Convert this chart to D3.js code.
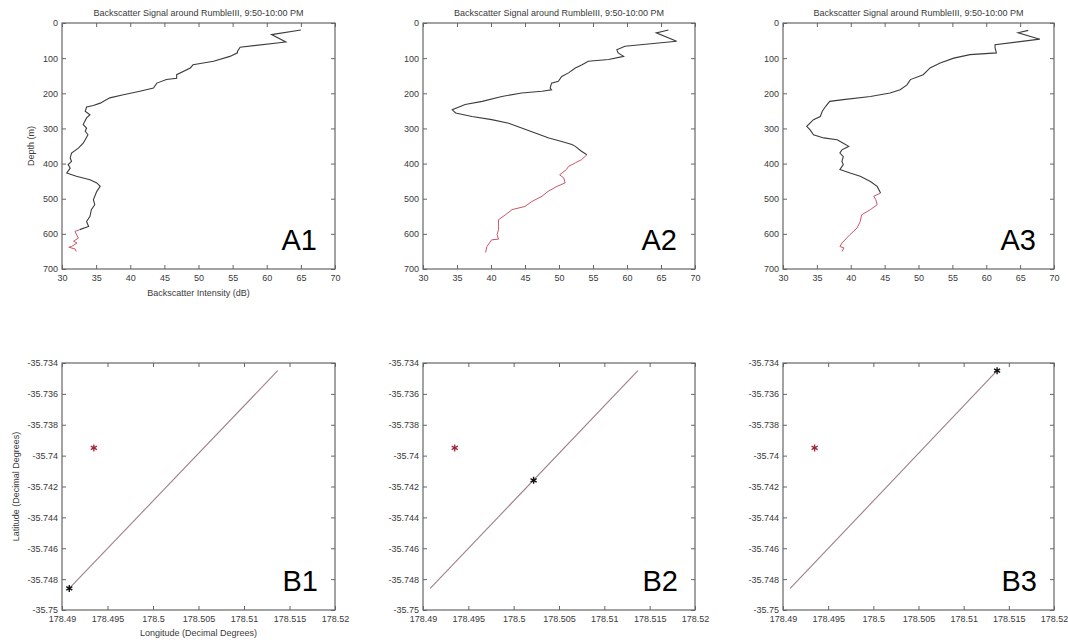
<!DOCTYPE html>
<html>
<head>
<meta charset="utf-8">
<script src="https://cdn.jsdelivr.net/npm/d3@7"></script>
<style>
  body { margin: 0; background: #fff; }
  text { font-family: "Liberation Sans", Arial, sans-serif; }
</style>
</head>
<body>
<div id="chart"></div>
<script>
var width = 1068;
var height = 640;

// ---- data ----
var titleText = "Backscatter Signal around RumbleIII, 9:50-10:00 PM";
var intensityTicks = [30, 35, 40, 45, 50, 55, 60, 65, 70];
var depthTicks = [0, 100, 200, 300, 400, 500, 600, 700];
var lonTicks = [178.49, 178.495, 178.5, 178.505, 178.51, 178.515, 178.52];
var latTicks = [-35.734, -35.736, -35.738, -35.74, -35.742, -35.744, -35.746, -35.748, -35.75];

var a1Intensity = [65.0, 60.7, 62.8, 56.1, 55.7, 55.7, 54.6, 52.2, 49.2, 48.8, 46.8, 46.8, 45.3, 43.9, 43.4, 41.4, 39.0, 37.0, 35.6, 34.6, 33.6, 33.4, 34.1, 33.6, 33.1, 33.6, 33.4, 33.8, 33.4, 33.1, 32.4, 31.4, 31.2, 31.4, 30.9, 31.2, 30.7, 32.1, 34.1, 35.1, 35.6, 35.1, 34.8, 34.6, 34.8, 34.3, 34.1, 33.6, 33.9, 32.6, 31.9, 32.4, 31.7, 32.2, 31.4, 31.0, 31.9, 32.1];
var a1Depth = [20, 33, 54, 69, 81, 85, 95, 109, 119, 128, 147, 157, 161, 171, 185, 194, 204, 213, 228, 235, 239, 251, 261, 270, 289, 299, 308, 318, 332, 342, 356, 370, 384, 394, 403, 413, 427, 436, 446, 455, 465, 479, 493, 503, 517, 531, 550, 565, 579, 588, 593, 612, 621, 626, 636, 638, 643, 650];
var a1RedFrom = 588;

var a2Intensity = [66.1, 64.3, 67.3, 59.7, 58.5, 58.7, 59.5, 57.3, 54.3, 53.4, 52.4, 51.4, 50.4, 49.9, 48.9, 48.7, 48.9, 47.5, 44.5, 41.6, 38.7, 36.2, 34.3, 34.8, 37.2, 40.1, 42.6, 44.5, 46.5, 48.5, 50.4, 51.9, 52.4, 53.3, 54.1, 53.3, 52.4, 51.4, 51.1, 50.1, 50.7, 50.9, 49.7, 48.4, 47.5, 46.0, 45.0, 43.1, 42.1, 41.1, 41.1, 41.1, 40.9, 41.1, 40.1, 39.4, 39.2];
var a2Depth = [20, 28, 52, 66, 76, 85, 95, 104, 109, 119, 128, 142, 152, 166, 171, 185, 190, 194, 199, 209, 223, 232, 247, 256, 266, 275, 285, 299, 313, 327, 337, 346, 351, 365, 375, 389, 398, 408, 417, 432, 441, 455, 465, 479, 493, 508, 522, 531, 546, 560, 579, 588, 602, 615, 617, 636, 653];
var a2RedFrom = 375;

var a3Intensity = [66.2, 64.7, 67.9, 61.3, 61.3, 61.5, 57.6, 55.2, 53.2, 51.7, 50.7, 48.8, 48.3, 47.3, 45.8, 42.9, 38.9, 36.9, 36.3, 35.8, 35.5, 34.5, 33.5, 34.0, 34.5, 36.0, 38.0, 38.9, 39.7, 38.7, 38.4, 38.9, 38.7, 38.9, 38.4, 39.9, 41.4, 42.9, 43.9, 44.4, 43.4, 43.7, 43.9, 42.9, 41.6, 41.4, 40.9, 39.9, 38.7, 38.4, 39.0, 38.7];
var a3Depth = [21, 28, 46, 62, 71, 85, 90, 100, 114, 128, 147, 161, 176, 190, 199, 209, 218, 223, 237, 251, 266, 275, 294, 304, 318, 327, 332, 342, 351, 361, 370, 380, 394, 403, 417, 427, 436, 451, 465, 484, 493, 503, 517, 531, 546, 565, 584, 602, 626, 636, 640, 650];
var a3RedFrom = 484;

var trackLon = [178.4908, 178.5137];
var trackLat = [-35.7486, -35.7345];
var targetLon = 178.4935;
var targetLat = -35.7395;
var shipLon = [178.4908, 178.5022, 178.5137];
var shipLat = [-35.7486, -35.7416, -35.7345];

// ---- layout ----
var boxLefts = [62, 423, 783];
var boxRights = [335, 695, 1054];
var topRow = { top: 23, bottom: 269 };
var bottomRow = { top: 363, bottom: 610 };

var svg = d3.select("#chart").append("svg")
    .attr("width", width)
    .attr("height", height);

function fmtNum(d) {
    return String(+d.toFixed(4));
}

function drawFrame(g, x, y, xTicks, yTicks, w, h) {
    var tickLen = 4;
    g.append("g")
        .attr("transform", "translate(0," + h + ")")
        .call(d3.axisBottom(x).tickValues(xTicks).tickSizeInner(-tickLen).tickSizeOuter(0).tickPadding(6).tickFormat(fmtNum))
        .call(s => s.select(".domain").remove());
    g.append("g")
        .call(d3.axisTop(x).tickValues(xTicks).tickSizeInner(-tickLen).tickSizeOuter(0).tickFormat(""))
        .call(s => s.select(".domain").remove());
    g.append("g")
        .call(d3.axisLeft(y).tickValues(yTicks).tickSizeInner(-tickLen).tickSizeOuter(0).tickPadding(4).tickFormat(fmtNum))
        .call(s => s.select(".domain").remove());
    g.append("g")
        .attr("transform", "translate(" + w + ",0)")
        .call(d3.axisRight(y).tickValues(yTicks).tickSizeInner(-tickLen).tickSizeOuter(0).tickFormat(""))
        .call(s => s.select(".domain").remove());

    g.selectAll(".tick line").attr("stroke", "#666");
    g.selectAll(".tick text").attr("fill", "#3a3a3a").style("font-size", "9px");

    g.append("rect")
        .attr("width", w)
        .attr("height", h)
        .attr("fill", "none")
        .attr("stroke", "#666")
        .attr("stroke-width", 1.2);
}

function drawProfile(i, intensity, depth, redFrom, label, withAxisLabels) {
    var left = boxLefts[i], w = boxRights[i] - boxLefts[i];
    var h = topRow.bottom - topRow.top;
    var g = svg.append("g").attr("transform", "translate(" + left + "," + topRow.top + ")");
    var x = d3.scaleLinear().domain([30, 70]).range([0, w]);
    var y = d3.scaleLinear().domain([0, 700]).range([0, h]);

    var pts = intensity.map((v, k) => [v, depth[k]]);
    var line = d3.line().x(d => x(d[0])).y(d => y(d[1]));

    g.append("path")
        .datum(pts.filter(d => d[1] <= redFrom))
        .attr("d", line)
        .attr("fill", "none")
        .attr("stroke", "#3c3c3c")
        .attr("stroke-width", 1.1);
    g.append("path")
        .datum(pts.filter(d => d[1] >= redFrom))
        .attr("d", line)
        .attr("fill", "none")
        .attr("stroke", "#cc5568")
        .attr("stroke-width", 1);

    drawFrame(g, x, y, intensityTicks, depthTicks, w, h);

    g.append("text")
        .attr("x", w / 2)
        .attr("y", -7)
        .attr("text-anchor", "middle")
        .attr("fill", "#3a3a3a")
        .style("font-size", "9px")
        .text(titleText);

    g.append("text")
        .attr("x", w - 18)
        .attr("y", h - 19)
        .attr("text-anchor", "end")
        .attr("fill", "#000")
        .style("font-size", "29px")
        .text(label);

    if (withAxisLabels) {
        g.append("text")
            .attr("x", w / 2)
            .attr("y", h + 27)
            .attr("text-anchor", "middle")
            .attr("fill", "#3a3a3a")
            .style("font-size", "9px")
            .text("Backscatter Intensity (dB)");
        g.append("text")
            .attr("transform", "translate(-28," + (h / 2) + ") rotate(-90)")
            .attr("text-anchor", "middle")
            .attr("fill", "#3a3a3a")
            .style("font-size", "9px")
            .text("Depth (m)");
    }
}

function drawTrack(i, label, withAxisLabels) {
    var left = boxLefts[i], w = boxRights[i] - boxLefts[i];
    var h = bottomRow.bottom - bottomRow.top;
    var g = svg.append("g").attr("transform", "translate(" + left + "," + bottomRow.top + ")");
    var x = d3.scaleLinear().domain([178.49, 178.52]).range([0, w]);
    var y = d3.scaleLinear().domain([-35.75, -35.734]).range([h, 0]);

    g.append("path")
        .datum(trackLon.map((v, k) => [v, trackLat[k]]))
        .attr("d", d3.line().x(d => x(d[0])).y(d => y(d[1])))
        .attr("fill", "none")
        .attr("stroke", "#a07f88")
        .attr("stroke-width", 1.1);

    var star = d3.symbol().type(d3.symbolAsterisk).size(34);
    g.append("path")
        .attr("d", star())
        .attr("transform", "translate(" + x(targetLon) + "," + y(targetLat) + ")")
        .attr("fill", "none")
        .attr("stroke", "#a02538")
        .attr("stroke-width", 1.3);
    g.append("path")
        .attr("d", star())
        .attr("transform", "translate(" + x(shipLon[i]) + "," + y(shipLat[i]) + ")")
        .attr("fill", "none")
        .attr("stroke", "#111")
        .attr("stroke-width", 1.4);

    drawFrame(g, x, y, lonTicks, latTicks, w, h);

    g.append("text")
        .attr("x", w - 17)
        .attr("y", h - 19)
        .attr("text-anchor", "end")
        .attr("fill", "#000")
        .style("font-size", "29px")
        .text(label);

    if (withAxisLabels) {
        g.append("text")
            .attr("x", w / 2)
            .attr("y", h + 26)
            .attr("text-anchor", "middle")
            .attr("fill", "#3a3a3a")
            .style("font-size", "9px")
            .text("Longitude (Decimal Degrees)");
        g.append("text")
            .attr("transform", "translate(-43," + (h / 2) + ") rotate(-90)")
            .attr("text-anchor", "middle")
            .attr("fill", "#3a3a3a")
            .style("font-size", "9px")
            .text("Latitude (Decimal Degrees)");
    }
}

drawProfile(0, a1Intensity, a1Depth, a1RedFrom, "A1", true);
drawProfile(1, a2Intensity, a2Depth, a2RedFrom, "A2", false);
drawProfile(2, a3Intensity, a3Depth, a3RedFrom, "A3", false);

drawTrack(0, "B1", true);
drawTrack(1, "B2", false);
drawTrack(2, "B3", false);
</script>
</body>
</html>
